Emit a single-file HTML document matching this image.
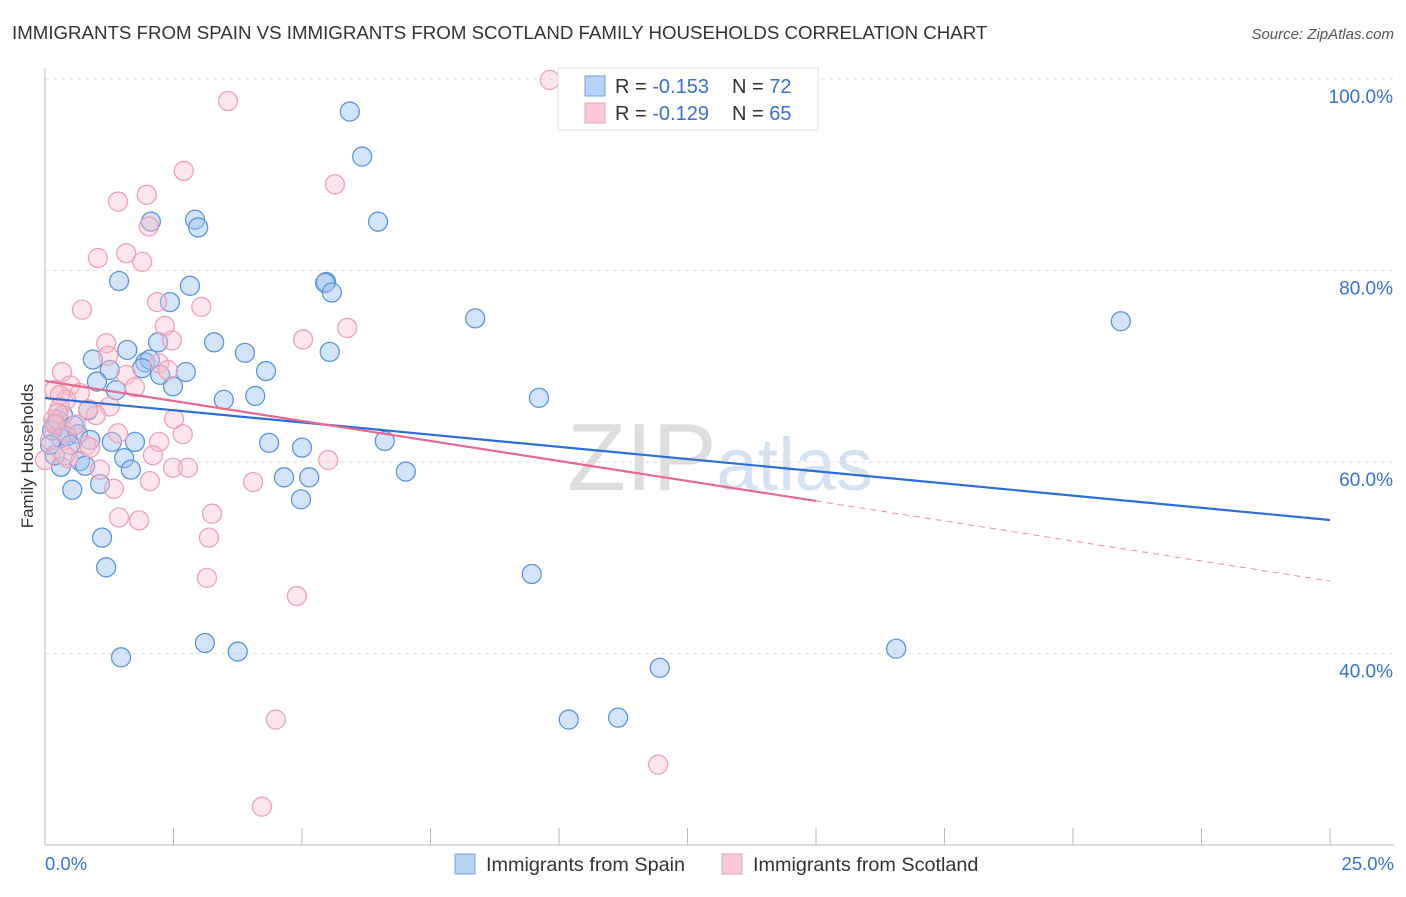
<!DOCTYPE html>
<html><head><meta charset="utf-8"><style>
body{margin:0;background:#fff;font-family:"Liberation Sans",sans-serif;}
svg text{font-family:"Liberation Sans",sans-serif;}
</style></head><body>
<svg id="c" width="1406" height="892">
<text x="12" y="39" font-size="18.7" fill="#333">IMMIGRANTS FROM SPAIN VS IMMIGRANTS FROM SCOTLAND FAMILY HOUSEHOLDS CORRELATION CHART</text>
<text x="1394" y="39" font-size="15" fill="#555" font-style="italic" text-anchor="end">Source: ZipAtlas.com</text>
<text x="33" y="456" font-size="17" fill="#333" text-anchor="middle" transform="rotate(-90 33 456)">Family Households</text>
<text x="720" y="490" font-size="96" fill="#e4e4e4" text-anchor="middle" font-family="Liberation Serif"><tspan fill="#ddd">ZIP</tspan><tspan fill="#d4e2f2" font-family="Liberation Sans" font-size="74">atlas</tspan></text>
<g id="grid"></g><g id="marks"></g>
<g>
<rect x="558" y="68" width="260" height="62" fill="#fff" stroke="#ddd"/>
<rect x="585" y="76" width="20" height="20" fill="#b8d2f5" stroke="#6fa0e0"/>
<rect x="585" y="103" width="20" height="20" fill="#f9c8d6" stroke="#eca0b8"/>
<text x="615" y="93" font-size="20" fill="#333">R = <tspan fill="#3a70d0">-0.153</tspan><tspan x="732">N = </tspan><tspan fill="#3a70d0">72</tspan></text>
<text x="615" y="120" font-size="20" fill="#333">R = <tspan fill="#3a70d0">-0.129</tspan><tspan x="732">N = </tspan><tspan fill="#3a70d0">65</tspan></text>
</g>
<g>
<rect x="455" y="854" width="20" height="20" fill="#b8d2f5" stroke="#6fa0e0"/>
<text x="486" y="871" font-size="19.8" fill="#333">Immigrants from Spain</text>
<rect x="722" y="854" width="20" height="20" fill="#f9c8d6" stroke="#eca0b8"/>
<text x="753" y="871" font-size="19.8" fill="#333">Immigrants from Scotland</text>
</g>
<text x="45" y="870" font-size="18.5" fill="#3a70d0">0.0%</text>
<text x="1394" y="870" font-size="18.5" fill="#3a70d0" text-anchor="end">25.0%</text>
</svg>
<script>
const yTicks=[100,80,60,40];
const yTickLabels=["100.0%","80.0%","60.0%","40.0%"];
const spainPx=[[350,112],[362,157],[378,222],[195,220],[198,227],[151,222],[119,281],[190,286],[170,302],[326,282],[325,283],[332,293],[475,318],[1121,321],[214,342],[245,353],[330,352],[127,350],[158,342],[93,360],[145,362],[150,360],[142,368],[110,370],[186,372],[266,371],[160,375],[173,386],[97,382],[116,390],[224,400],[255,396],[539,398],[88,410],[63,415],[56,424],[74,426],[61,438],[67,436],[78,434],[112,442],[135,442],[269,443],[302,448],[385,441],[124,458],[80,461],[85,466],[61,467],[131,470],[406,472],[284,477],[309,477],[100,484],[72,490],[301,499],[102,538],[106,567],[532,574],[205,643],[238,652],[121,657],[896,649],[660,668],[569,720],[618,718],[52,430],[55,455],[50,445],[70,445],[58,420],[90,440]];
const scotPx=[[550,80],[228,101],[184,171],[335,184],[118,202],[147,195],[149,226],[98,258],[126,253],[142,262],[82,310],[157,302],[201,307],[165,326],[347,328],[303,339],[106,343],[172,340],[108,356],[159,363],[62,372],[126,375],[168,370],[135,387],[70,385],[54,390],[80,393],[66,400],[60,407],[110,406],[96,415],[88,409],[174,419],[53,420],[58,413],[118,433],[183,434],[66,432],[86,446],[159,442],[153,455],[68,458],[90,448],[173,468],[188,468],[328,460],[150,481],[253,482],[114,489],[119,518],[139,520],[212,514],[209,538],[207,578],[297,596],[276,720],[262,807],[658,765],[50,440],[55,425],[45,460],[60,395],[76,425],[65,455],[100,470]];
// data values (x in %, y in %)
const spainX=spainPx.map(p=>+((p[0]-45)/51.4).toFixed(2));
const spainY=spainPx.map(p=>+(100-(p[1]-79)/9.575).toFixed(1));
const scotX=scotPx.map(p=>+((p[0]-45)/51.4).toFixed(2));
const scotY=scotPx.map(p=>+(100-(p[1]-79)/9.575).toFixed(1));
const spainTrend=[66.68,53.94];
const scotTrend=[68.46,55.93,47.57];
const X=v=>45+v*51.4, Y=v=>79+(100-v)*9.575;
const NS="http://www.w3.org/2000/svg";
const grid=document.getElementById('grid'),marks=document.getElementById('marks');
function mk(t,a,p){const e=document.createElementNS(NS,t);for(const k in a)e.setAttribute(k,a[k]);p.appendChild(e);return e;}
yTicks.forEach((v,i)=>{
 const l=mk('line',{x1:45,x2:1394,y1:Y(v),y2:Y(v),stroke:'#ddd','stroke-dasharray':'4,4'},grid);
 
 
 const t=mk('text',{x:1393,y:Y(v)+24,'font-size':19,fill:'#3a70d0','text-anchor':'end'},grid);t.textContent=yTickLabels[i];
 
 
});
const ax=mk('line',{x1:45,x2:1394,y1:845,y2:845,stroke:'#bbb'},grid);


const ay=mk('line',{x1:45,x2:45,y1:68,y2:845,stroke:'#bbb'},grid);


for(let i=0;i<=10;i++){const t=mk('line',{x1:X(i*2.5),x2:X(i*2.5),y1:828,y2:845,stroke:'#bbb'},grid);
 
 }
spainX.forEach((x,i)=>{const c=mk('circle',{cx:X(x),cy:Y(spainY[i]),r:9.5,fill:'rgba(160,196,240,0.45)',stroke:'#5b96dc','stroke-width':1.3},marks);
 
 });
scotX.forEach((x,i)=>{const c=mk('circle',{cx:X(x),cy:Y(scotY[i]),r:9.5,fill:'rgba(248,190,205,0.4)',stroke:'#eea2b8','stroke-width':1.3},marks);
 
 });
const b=mk('line',{x1:X(0),y1:Y(spainTrend[0]),x2:X(25),y2:Y(spainTrend[1]),stroke:'#2a6ed8','stroke-width':2.2},marks);


const p=mk('line',{x1:X(0),y1:Y(scotTrend[0]),x2:X(15),y2:Y(scotTrend[1]),stroke:'#e86890','stroke-width':2.2},marks);


const pd=mk('line',{x1:X(15),y1:Y(scotTrend[1]),x2:X(25),y2:Y(scotTrend[2]),stroke:'#e890a8','stroke-width':1,'stroke-dasharray':'6,5'},marks);


</script>
</body></html>
